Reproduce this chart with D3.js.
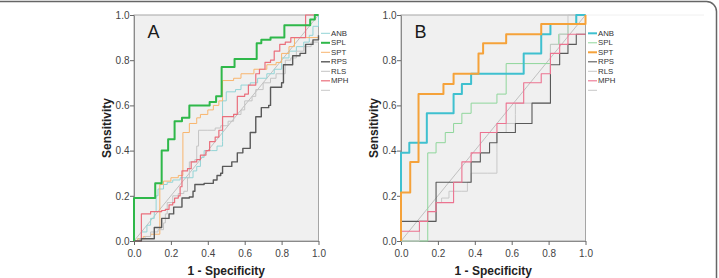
<!DOCTYPE html>
<html>
<head>
<meta charset="utf-8">
<script src="https://cdn.jsdelivr.net/npm/d3@7"></script>
<style>
body{margin:0;background:#fff;}
svg{display:block;font-family:"Liberation Sans",Arial,sans-serif;}
</style>
</head>
<body>
<div id="chart"></div>
<script>
// axis ticks + legend labels (last one is the reference line, no label)
const ticks = [0, 0.2, 0.4, 0.6, 0.8, 1.0];
const seriesNames = ['ANB', 'SPL', 'SPT', 'RPS', 'RLS', 'MPH', ''];
const refLine = [[0, 0], [1, 1]];

// panel A: [1 - specificity, sensitivity]
const anbA = [[0,0],[0.02,0.01],[0.04,0.04],[0.07,0.07],[0.09,0.10],[0.11,0.13],[0.12,0.20],[0.13,0.23],[0.16,0.25],[0.18,0.26],[0.21,0.27],[0.25,0.28],[0.32,0.28],[0.32,0.31],[0.34,0.33],[0.36,0.33],[0.36,0.37],[0.38,0.40],[0.42,0.40],[0.45,0.42],[0.47,0.42],[0.48,0.44],[0.48,0.62],[0.50,0.66],[0.55,0.67],[0.58,0.69],[0.63,0.70],[0.67,0.72],[0.72,0.74],[0.76,0.76],[0.80,0.81],[0.84,0.84],[0.88,0.86],[0.92,0.88],[0.95,0.91],[0.97,0.95],[1,0.97],[1,1]];
const splA = [[0,0],[0,0.19],[0.115,0.19],[0.115,0.255],[0.15,0.255],[0.15,0.40],[0.185,0.40],[0.185,0.45],[0.22,0.45],[0.22,0.53],[0.26,0.53],[0.26,0.545],[0.30,0.545],[0.30,0.60],[0.41,0.60],[0.41,0.615],[0.445,0.615],[0.445,0.64],[0.475,0.64],[0.475,0.77],[0.545,0.77],[0.545,0.805],[0.665,0.805],[0.665,0.875],[0.69,0.875],[0.69,0.89],[0.74,0.89],[0.74,0.90],[0.815,0.90],[0.815,0.955],[0.955,0.955],[0.955,0.98],[0.98,0.98],[0.98,1],[1,1]];
const sptA = [[0,0],[0.02,0.01],[0.05,0.02],[0.09,0.03],[0.14,0.035],[0.14,0.25],[0.16,0.265],[0.20,0.28],[0.24,0.29],[0.265,0.29],[0.265,0.48],[0.30,0.48],[0.30,0.52],[0.34,0.545],[0.36,0.56],[0.40,0.58],[0.43,0.60],[0.46,0.62],[0.48,0.62],[0.48,0.71],[0.54,0.71],[0.54,0.72],[0.58,0.74],[0.65,0.76],[0.72,0.78],[0.77,0.79],[0.80,0.83],[0.84,0.86],[0.87,0.90],[1,0.90]];
const rpsA = [[0,0],[0.04,0.01],[0.11,0.015],[0.11,0.06],[0.15,0.06],[0.15,0.10],[0.19,0.10],[0.19,0.12],[0.215,0.12],[0.215,0.15],[0.25,0.15],[0.26,0.19],[0.30,0.195],[0.32,0.22],[0.33,0.25],[0.38,0.255],[0.43,0.27],[0.45,0.29],[0.47,0.30],[0.48,0.33],[0.53,0.35],[0.56,0.39],[0.59,0.41],[0.62,0.41],[0.63,0.43],[0.63,0.48],[0.66,0.48],[0.66,0.55],[0.69,0.56],[0.69,0.59],[0.73,0.60],[0.74,0.68],[0.80,0.70],[0.81,0.72],[0.81,0.78],[0.85,0.78],[0.86,0.82],[0.90,0.83],[0.93,0.87],[0.97,0.89],[1,0.91]];
const rlsA = [[0,0],[0.03,0.01],[0.06,0.02],[0.09,0.04],[0.13,0.05],[0.16,0.08],[0.17,0.12],[0.18,0.17],[0.21,0.20],[0.24,0.21],[0.27,0.22],[0.29,0.28],[0.30,0.35],[0.33,0.36],[0.34,0.42],[0.35,0.49],[0.40,0.49],[0.44,0.50],[0.47,0.51],[0.51,0.53],[0.54,0.56],[0.58,0.58],[0.60,0.62],[0.64,0.64],[0.66,0.67],[0.70,0.70],[0.74,0.72],[0.77,0.74],[0.81,0.74],[0.82,0.80],[0.85,0.81],[0.88,0.84],[0.92,0.86],[0.96,0.88],[1,0.90]];
const mphA = [[0,0],[0.04,0],[0.04,0.12],[0.09,0.12],[0.09,0.13],[0.15,0.135],[0.17,0.14],[0.19,0.16],[0.21,0.17],[0.22,0.19],[0.24,0.20],[0.25,0.24],[0.26,0.25],[0.26,0.31],[0.29,0.32],[0.31,0.35],[0.34,0.36],[0.36,0.38],[0.39,0.40],[0.41,0.44],[0.44,0.46],[0.46,0.49],[0.48,0.52],[0.48,0.55],[0.54,0.56],[0.56,0.64],[0.60,0.65],[0.62,0.69],[0.66,0.74],[0.68,0.76],[0.71,0.79],[0.74,0.80],[0.76,0.84],[0.79,0.87],[0.82,0.88],[0.85,0.90],[0.93,0.91],[0.93,1],[1,1]];

// panel B
const anbB = [[0,0],[0,0.39],[0.045,0.39],[0.045,0.435],[0.14,0.435],[0.14,0.565],[0.285,0.565],[0.285,0.65],[0.33,0.65],[0.33,0.695],[0.38,0.695],[0.38,0.74],[0.665,0.74],[0.665,0.83],[0.76,0.83],[0.76,0.915],[0.81,0.915],[0.81,0.96],[0.95,0.96],[0.95,1],[1,1]];
const splB = [[0,0],[0.145,0],[0.145,0.39],[0.19,0.39],[0.19,0.435],[0.24,0.435],[0.24,0.48],[0.285,0.48],[0.285,0.52],[0.33,0.52],[0.33,0.565],[0.38,0.565],[0.38,0.61],[0.52,0.61],[0.52,0.65],[0.57,0.65],[0.57,0.785],[0.81,0.785],[0.81,0.87],[0.855,0.87],[0.855,0.915],[0.905,0.915],[0.905,0.96],[0.95,0.96],[0.95,1],[1,1]];
const sptB = [[0,0],[0,0.215],[0.05,0.215],[0.05,0.35],[0.095,0.35],[0.095,0.65],[0.23,0.65],[0.23,0.695],[0.285,0.695],[0.285,0.74],[0.42,0.74],[0.42,0.83],[0.445,0.875],[0.57,0.875],[0.57,0.915],[0.76,0.915],[0.76,0.96],[1,0.96],[1,1]];
const rpsB = [[0,0],[0,0.087],[0.19,0.087],[0.19,0.26],[0.38,0.26],[0.38,0.35],[0.43,0.35],[0.43,0.39],[0.48,0.39],[0.48,0.435],[0.52,0.435],[0.52,0.48],[0.62,0.48],[0.62,0.52],[0.71,0.52],[0.71,0.61],[0.81,0.61],[0.81,0.78],[0.86,0.78],[0.86,0.83],[0.905,0.83],[0.905,0.87],[0.95,0.87],[0.95,0.915],[1,0.915]];
const rlsB = [[0,0],[0.10,0.087],[0.19,0.17],[0.22,0.19],[0.26,0.22],[0.33,0.22],[0.36,0.26],[0.38,0.30],[0.47,0.30],[0.52,0.39],[0.52,0.48],[0.57,0.52],[0.62,0.56],[0.62,0.61],[0.81,0.61],[0.81,0.87],[0.86,0.87],[0.86,0.915],[0.905,0.915],[0.905,1],[1,1]];
const mphB = [[0,0],[0,0.043],[0.1,0.043],[0.1,0.087],[0.145,0.087],[0.145,0.13],[0.19,0.13],[0.19,0.17],[0.24,0.17],[0.285,0.217],[0.285,0.26],[0.33,0.26],[0.33,0.35],[0.38,0.35],[0.38,0.39],[0.43,0.39],[0.43,0.48],[0.52,0.48],[0.52,0.52],[0.57,0.52],[0.57,0.61],[0.665,0.61],[0.665,0.70],[0.76,0.70],[0.76,0.74],[0.81,0.74],[0.81,0.83],[0.86,0.83],[0.86,0.87],[0.905,0.87],[0.905,0.915],[1,0.915]];

class RocPanel {
    constructor(svg, left, label) {
        this.svg = svg;
        this.left = left;
        this.right = left + 184.5;
        this.top = 15;
        this.bottom = 241;
        this.label = label;
        this.x = d3.scaleLinear().domain([0, 1]).range([this.left, this.right]);
        this.y = d3.scaleLinear().domain([0, 1]).range([this.bottom, this.top]);
        this.g = svg.append('g').attr('class', 'panel_' + label);
    }

    draw(series, styles) {
        this.g.append('rect')
            .attr('x', this.left).attr('y', this.top)
            .attr('width', this.right - this.left).attr('height', this.bottom - this.top)
            .attr('fill', '#f0f0f0').attr('stroke', '#a5a5a5').attr('stroke-width', 1);

        let fmt = d3.format('.1f');
        this.g.append('g')
            .attr('transform', 'translate(0,' + this.bottom + ')')
            .call(d3.axisBottom(this.x).tickValues(ticks).tickFormat(fmt).tickSizeInner(4).tickSizeOuter(0))
            .call(g => g.select('.domain').attr('stroke', '#8a8a8a'))
            .call(g => g.selectAll('line').attr('stroke', '#666'))
            .call(g => g.selectAll('text').attr('fill', '#444').attr('font-size', 10).attr('dy', '0.9em'));
        this.g.append('g')
            .attr('transform', 'translate(' + this.left + ',0)')
            .call(d3.axisLeft(this.y).tickValues(ticks).tickFormat(fmt).tickSizeInner(4).tickSizeOuter(0))
            .call(g => g.select('.domain').attr('stroke', '#8a8a8a'))
            .call(g => g.selectAll('line').attr('stroke', '#666'))
            .call(g => g.selectAll('text').attr('fill', '#444').attr('font-size', 10).attr('x', -4.5));

        let line = d3.line().x(d => this.x(d[0])).y(d => this.y(d[1]));

        this.g.append('path')
            .datum(refLine)
            .attr('d', line)
            .attr('fill', 'none').attr('stroke', '#b4b4b4').attr('stroke-width', 0.8);

        let stepLine = d3.line().x(d => this.x(d[0])).y(d => this.y(d[1])).curve(d3.curveStepAfter);
        // thick series drawn last so they sit on top
        let order = d3.range(series.length).sort((a, b) => styles[a].w - styles[b].w);
        order.forEach(i => {
            this.g.append('path')
                .datum(series[i])
                .attr('d', stepLine)
                .attr('fill', 'none')
                .attr('stroke', styles[i].c)
                .attr('stroke-width', styles[i].w)
                .attr('stroke-linejoin', 'round');
        });

        // legend
        let legendStyles = styles.concat([{c: '#c8c8c8', w: 1}]);
        let lg = this.g.append('g');
        seriesNames.forEach((name, i) => {
            let ly = 33.3 + 9.5 * i;
            lg.append('line')
                .attr('x1', this.right + 2.5).attr('x2', this.right + 11.5)
                .attr('y1', ly).attr('y2', ly)
                .attr('stroke', legendStyles[i].c)
                .attr('stroke-width', Math.max(1, legendStyles[i].w));
            lg.append('text')
                .text(name)
                .attr('x', this.right + 12.5).attr('y', ly)
                .attr('dominant-baseline', 'central')
                .attr('font-size', 7.8).attr('fill', '#333');
        });

        this.g.append('text')
            .text(this.label)
            .attr('x', this.left + 13.5).attr('y', 37.5)
            .attr('font-size', 18).attr('fill', '#1a1a1a');

        this.g.append('text')
            .text('1 - Specificity')
            .attr('x', (this.left + this.right) / 2).attr('y', 275)
            .attr('text-anchor', 'middle')
            .attr('font-size', 12).attr('font-weight', 'bold').attr('fill', '#222');

        this.g.append('text')
            .text('Sensitivity')
            .attr('transform', 'translate(' + (this.left - 27) + ',' + ((this.top + this.bottom) / 2) + ') rotate(-90)')
            .attr('text-anchor', 'middle')
            .attr('dominant-baseline', 'central')
            .attr('font-size', 12).attr('font-weight', 'bold').attr('fill', '#222');
    }
}

const width = 719, height = 278;
const svg = d3.select('#chart').append('svg')
    .attr('width', width).attr('height', height);

// outer frame (left and bottom edges fall outside the picture)
svg.append('rect')
    .attr('x', -12).attr('y', 1.5)
    .attr('width', 728.5).attr('height', 300)
    .attr('rx', 10)
    .attr('fill', 'none').attr('stroke', '#666').attr('stroke-width', 1.5);

// faint chart-area line at top of panel B
svg.append('line')
    .attr('x1', 586).attr('x2', 704).attr('y1', 15).attr('y2', 15)
    .attr('stroke', '#f0f0f0');

const stylesA = [
    {c: '#93d4d6', w: 1}, {c: '#2fb84a', w: 2}, {c: '#f8b56e', w: 1},
    {c: '#595959', w: 1.4}, {c: '#c4c4c4', w: 1}, {c: '#ea6f7c', w: 1.2}
];
const stylesB = [
    {c: '#3fc0cf', w: 2}, {c: '#8fd69b', w: 1}, {c: '#f5a23a', w: 2},
    {c: '#595959', w: 1.1}, {c: '#c8c8c8', w: 1}, {c: '#ec7390', w: 1.1}
];

new RocPanel(svg, 134, 'A').draw([anbA, splA, sptA, rpsA, rlsA, mphA], stylesA);
new RocPanel(svg, 401, 'B').draw([anbB, splB, sptB, rpsB, rlsB, mphB], stylesB);
</script>
</body>
</html>
